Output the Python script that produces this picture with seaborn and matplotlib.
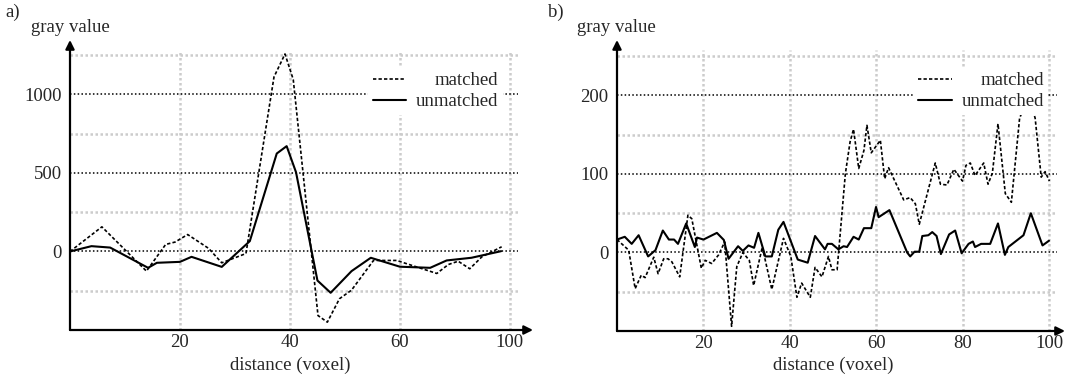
import numpy as np
import pandas as pd
import seaborn as sns
import matplotlib.pyplot as plt

sns.set_style("white")
plt.rcParams['font.family'] = ['Liberation Serif', 'DejaVu Serif']
plt.rcParams['font.size'] = 13.5

# panel a) profiles (read off the picture)
a_matched_x = [0, 5.8, 13.9, 17.4, 19.1, 21.4, 25.2, 27.6, 32, 37.1, 39.1, 40.6, 45.1, 46.8,
               49, 51.2, 55.2, 59.4, 66.7, 68.8, 70.6, 72.7, 74.9, 78.5]
a_matched_y = [0, 157, -125, 45, 60, 108, 20, -72, -13, 1112, 1258, 1095, -408, -450,
               -301, -246, -57, -57, -140, -83, -62, -110, -34, 30]
a_unmatched_x = [0, 3.9, 7.3, 14.2, 15.8, 20, 22.1, 27.6, 32.7, 37.6, 39.4, 41.1, 45, 47.4,
                 51.2, 54.7, 60, 65.5, 68.5, 73, 78.4]
a_unmatched_y = [0, 34, 25, -104, -72, -66, -34, -98, 66, 624, 671, 505, -185, -263,
                 -125, -40, -97, -104, -57, -40, 2]

# panel b) profiles
b_matched_x = [0, 2.7, 4.2, 5.6, 6.5, 8.5, 9.5, 10.8, 11.8, 12.7, 14.5, 16.4, 17.3, 19.5, 20.4,
               21.9, 23.5, 24.9, 26.5, 27.7, 29.1, 30.6, 31.6, 33.6, 35.8, 38.5, 40.2, 41.6,
               42.7, 44.7, 45.8, 47.4, 48.9, 49.7, 50.9, 52.8, 53.9, 54.7, 55.9, 57.1, 57.8,
               58.8, 60.9, 61.9, 62.8, 66.3, 67.8, 69, 69.9, 73.6, 74.8, 76.3, 77.9, 79.9,
               80.7, 81.7, 82.8, 84.8, 85.8, 86.8, 88.1, 89.8, 91.2, 93.1, 95.2, 96.7, 98.1,
               99, 100]
b_matched_y = [16.5, 3, -46, -29, -32, -6, -27, -8, -8, -12, -31, 47.5, 43, -20, -10,
               -14, -3, 13.5, -94, -18, 0, -10, -42, 7, -47, 18, -5, -57,
               -39, -57, -19, -31, -5, -22, -22, 100, 141, 157, 107, 130, 162,
               127, 143, 94, 108, 67, 70, 62, 36, 114, 87, 86, 106, 91,
               111, 114, 98, 114, 87, 101, 164, 75, 64, 171, 200, 171, 96,
               103, 91]
b_unmatched_x = [0, 1.8, 3.4, 5, 7.2, 8.9, 10.6, 12, 13.2, 14.1, 16, 18, 18.5, 20, 23.1, 24.7,
                 25.8, 28, 29.1, 30.4, 31.7, 32.7, 34.3, 35.8, 37.3, 38.5, 41.8, 44.1, 45.8,
                 48.1, 48.7, 49.7, 51.2, 52.4, 53.2, 54.7, 55.9, 57.1, 58.8, 59.9, 60.5, 63,
                 67.1, 67.8, 68.8, 69.9, 70.6, 72, 72.9, 73.9, 74.9, 76.8, 78.2, 79.7, 81.3,
                 82.3, 82.8, 84.2, 86.3, 88.1, 89.7, 90.5, 94, 95.7, 98.4, 99.9]
b_unmatched_y = [16.5, 20, 11, 22, -5, 3, 28, 16.5, 16.5, 11, 37, 7, 19, 16.5, 25, 16,
                 -8, 8, 2, 9, 6, 25, -5, -5, 29, 39, -9, -13, 21,
                 4, 11, 11, 4, 8, 7, 20, 16.5, 31, 31, 58, 45, 54,
                 0, -5, 1, 1, 21, 22, 26, 21, -2, 23, 28, -1, 11,
                 14, 7, 11, 11, 37, -3, 7, 22, 50, 9, 15]

a_xticks = [20, 40, 60, 80]
a_xticklabels = ['20', '40', '60', '100']
a_yticks = [0, 500, 1000]
a_minor = [-250, 250, 750, 1250]
b_xticks = [20, 40, 60, 80, 100]
b_yticks = [0, 100, 200]
b_minor = [-50, 50, 150, 250]

W, H = 1070, 378
fig = plt.figure(figsize=(W / 100, H / 100), dpi=100)
DASH = (0, (2, 1.3))


def px_axes(x0, x1, y_top, y_bot):
    return fig.add_axes([x0 / W, 1 - y_bot / H, (x1 - x0) / W, (y_bot - y_top) / H])


def setup(ax, xlim, ylim, xticks, xlabels, yticks, minor, grid_x, grid_top):
    ax.set_xlim(*xlim)
    ax.set_ylim(*ylim)
    for s in ax.spines.values():
        s.set_visible(False)
    ax.hlines(yticks, xlim[0], grid_x, colors='k', linestyles=(0, (1, 1.5)), lw=1.1, zorder=1)
    ax.hlines(minor, xlim[0], grid_x, colors='#cccccc', linestyles=(0, (1, 1)), lw=1.8, zorder=0)
    ax.vlines(xticks, ylim[0], grid_top, colors='#cccccc', linestyles=(0, (1, 1)), lw=1.8, zorder=0)
    ax.set_xticks(xticks)
    ax.set_xticklabels(xlabels)
    ax.set_yticks(yticks)
    ax.tick_params(length=0, labelsize=13.5)
    ax.tick_params(axis='y', pad=6)
    ax.tick_params(axis='x', pad=3)
    ax.set_xlabel('')
    ax.set_ylabel('')
    arrow = dict(arrowstyle='-|>', lw=1.6, color='k', mutation_scale=13, shrinkA=0, shrinkB=0)
    ax.annotate('', xy=(1, 0), xytext=(0, 0), xycoords='axes fraction', arrowprops=arrow,
                annotation_clip=False)
    ax.annotate('', xy=(0, 1), xytext=(0, 0), xycoords='axes fraction', arrowprops=arrow,
                annotation_clip=False)


def add_legend(ax, anchor):
    leg = ax.legend(loc='upper right', bbox_to_anchor=anchor, frameon=True, fancybox=False,
                    framealpha=1, facecolor='white', edgecolor='none', fontsize=13.5,
                    handlelength=1.8, handletextpad=0.5, borderpad=0.25, labelspacing=0.2,
                    borderaxespad=0)
    leg.set_zorder(5)
    # right-align the labels inside the legend
    fig.canvas.draw()
    r = fig.canvas.get_renderer()
    widths = [t.get_window_extent(r).width for t in leg.get_texts()]
    for t, w in zip(leg.get_texts(), widths):
        t.set_position((max(widths) - w, 0))
    return leg


# panel a
axa = px_axes(70, 533, 40, 330)
sns.lineplot(x=a_matched_x, y=a_matched_y, ax=axa, color='k', lw=1.2, label='matched',
             estimator=None, sort=False, zorder=3, linestyle=DASH)
sns.lineplot(x=a_unmatched_x, y=a_unmatched_y, ax=axa, color='k', lw=1.5, label='unmatched',
             estimator=None, sort=False, zorder=3)
setup(axa, (0, 84.2), (-500, 1347), a_xticks, a_xticklabels, a_yticks, a_minor, 81.5, 1285)
add_legend(axa, (0.935, 0.905))

# panel b
axb = px_axes(617, 1065, 40, 331)
sns.lineplot(x=b_matched_x, y=b_matched_y, ax=axb, color='k', lw=1.2, label='matched',
             estimator=None, sort=False, zorder=3, linestyle=DASH)
sns.lineplot(x=b_unmatched_x, y=b_unmatched_y, ax=axb, color='k', lw=1.5, label='unmatched',
             estimator=None, sort=False, zorder=3)
setup(axb, (0, 103.6), (-100, 270.7), b_xticks, [str(v) for v in b_xticks], b_yticks, b_minor,
      101.7, 258)
add_legend(axb, (0.963, 0.905))

fig.text(13 / W, 1 - 12 / H, 'a)', ha='center', va='center', fontsize=13.5)
fig.text(70 / W, 1 - 27 / H, 'gray value', ha='center', va='center', fontsize=13.5)
fig.text(290 / W, 1 - 365 / H, 'distance (voxel)', ha='center', va='center', fontsize=13.5)
fig.text(556 / W, 1 - 12 / H, 'b)', ha='center', va='center', fontsize=13.5)
fig.text(616 / W, 1 - 27 / H, 'gray value', ha='center', va='center', fontsize=13.5)
fig.text(833 / W, 1 - 365 / H, 'distance (voxel)', ha='center', va='center', fontsize=13.5)

fig.savefig('out.png', dpi=100, facecolor='white')
